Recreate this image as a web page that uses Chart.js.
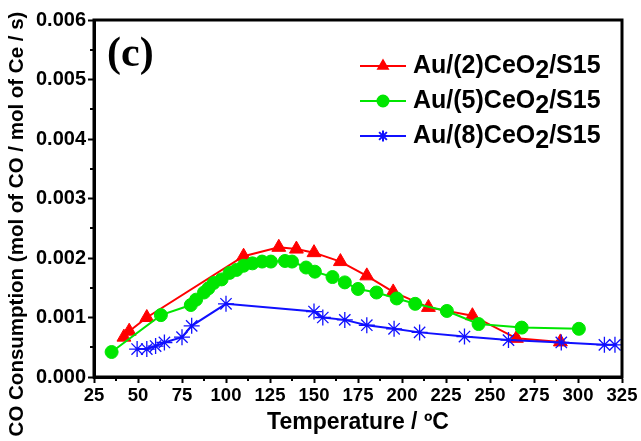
<!DOCTYPE html>
<html>
<head>
<meta charset="utf-8">
<script src="https://cdn.jsdelivr.net/npm/chart.js@4/dist/chart.umd.min.js"></script>
<style>
  html, body { margin: 0; padding: 0; background: #fff; }
  #wrap { width: 641px; height: 441px; position: relative; }
</style>
</head>
<body>
<div id="wrap"><canvas id="c" width="641" height="441"></canvas></div>
<script>
  // values
  const SERIES_LABELS = ["Au/(2)CeO₂/S15", "Au/(5)CeO₂/S15", "Au/(8)CeO₂/S15"];
  const X_TITLE = "Temperature / ºC";
  const Y_TITLE = "CO Consumption (mol of CO / mol of Ce / s)";

  const tempAu2 = [42, 45, 55, 110, 130, 140, 150, 165, 180, 195, 215, 240, 265, 290];
  const coAu2 = [0.00067, 0.00077, 0.00100, 0.00203, 0.00218, 0.00215, 0.00209, 0.00194, 0.00170, 0.00143, 0.00117, 0.00103, 0.00065, 0.00059];

  const tempAu5 = [35, 63, 80, 83, 87.5, 90, 93, 97.5, 102, 106, 110, 115, 120.5, 125.5, 133.5, 137.5, 145.5, 150.5, 160.5, 167.5, 175, 185.5, 197, 207.5, 225.5, 243.5, 268, 300.5];
  const coAu5 = [0.00042, 0.00104, 0.00121, 0.00130, 0.00142, 0.00149, 0.00158, 0.00164, 0.00175, 0.00180, 0.00187, 0.00191, 0.00194, 0.00194, 0.00195, 0.00194, 0.00184, 0.00177, 0.00168, 0.00159, 0.00148, 0.00142, 0.00132, 0.00123, 0.00111, 0.00089, 0.00083, 0.00081];

  const tempAu8 = [49.5, 55, 60, 65, 75, 80.5, 100, 150, 155, 167.5, 180, 195.5, 210, 235.5, 260.5, 290.5, 315, 321];
  const coAu8 = [0.00047, 0.00047, 0.00052, 0.00058, 0.00067, 0.00086, 0.00123, 0.00110, 0.00100, 0.00096, 0.00087, 0.00081, 0.00075, 0.00068, 0.00062, 0.00058, 0.00054, 0.00054];

  const X_MIN = 25, X_MAX = 325, X_STEP = 25;
  const Y_MIN = 0, Y_MAX = 0.006, Y_STEP = 0.001;

  const COLORS = ["#ff0000", "#00e600", "#1010ff"];
  const POINT_STYLES = ["triangle", "circle", "star"];
  const POINT_RADIUS = [8, 6.5, 8];
  const FONT = "'Liberation Sans', Arial, sans-serif";

  function toPoints(xs, ys) {
    return xs.map((x, i) => ({ x: x, y: ys[i] }));
  }

  function makeDataset(i, xs, ys) {
    return {
      label: SERIES_LABELS[i],
      data: toPoints(xs, ys),
      borderColor: COLORS[i],
      backgroundColor: COLORS[i],
      pointStyle: POINT_STYLES[i],
      pointRadius: POINT_RADIUS[i],
      pointBorderColor: COLORS[i],
      pointBackgroundColor: COLORS[i],
      pointBorderWidth: i === 2 ? 1.3 : 1,
      borderWidth: 2,
      tension: 0,
      fill: false,
      order: 2 - i,
    };
  }

  // frame on all four sides + minor ticks + rotated y title
  const framePlugin = {
    id: "frame",
    afterDraw(chart) {
      const ctx = chart.ctx;
      const a = chart.chartArea;
      const xs = chart.scales.x, ys = chart.scales.y;
      ctx.save();
      ctx.strokeStyle = "#000";
      ctx.lineWidth = 3;
      ctx.strokeRect(a.left, a.top, a.right - a.left, a.bottom - a.top);
      ctx.lineWidth = 2;
      ctx.beginPath();
      for (let v = X_MIN + X_STEP / 2; v < X_MAX; v += X_STEP) {
        const px = Math.round(xs.getPixelForValue(v));
        ctx.moveTo(px, a.bottom);
        ctx.lineTo(px, a.bottom + 4);
      }
      for (let v = Y_MIN + Y_STEP / 2; v < Y_MAX; v += Y_STEP) {
        const py = Math.round(ys.getPixelForValue(v));
        ctx.moveTo(a.left, py);
        ctx.lineTo(a.left - 4, py);
      }
      ctx.stroke();

      ctx.translate(17, 224);
      ctx.rotate(-Math.PI / 2);
      ctx.fillStyle = "#000";
      ctx.font = "bold 20.5px " + FONT;
      ctx.textAlign = "center";
      ctx.textBaseline = "middle";
      ctx.fillText(Y_TITLE, 0, 0);
      ctx.restore();
    },
  };

  // legend: short line with marker, bold label with lowered "2"
  const legendPlugin = {
    id: "lineLegend",
    afterDraw(chart, args, opts) {
      const ctx = chart.ctx;
      ctx.save();
      chart.data.datasets.forEach((ds, i) => {
        const y = opts.top + i * opts.rowGap;
        ctx.strokeStyle = ds.borderColor;
        ctx.lineWidth = 2;
        ctx.beginPath();
        ctx.moveTo(opts.lineX0, y);
        ctx.lineTo(opts.lineX1, y);
        ctx.stroke();
        ctx.fillStyle = ds.borderColor;
        Chart.helpers.drawPoint(ctx, {
          pointStyle: ds.pointStyle,
          radius: 5.5,
          borderWidth: 1,
          rotation: 0,
        }, (opts.lineX0 + opts.lineX1) / 2, y);

        ctx.fillStyle = "#000";
        ctx.font = "bold " + opts.fontSize + "px " + FONT;
        ctx.textBaseline = "middle";
        ctx.textAlign = "left";
        const parts = ds.label.split("₂");
        let x = opts.textX;
        ctx.fillText(parts[0], x, y);
        x += ctx.measureText(parts[0]).width;
        ctx.fillText("2", x, y + opts.subShift);
        x += ctx.measureText("2").width;
        ctx.fillText(parts[1], x, y);
      });
      // panel letter
      ctx.fillStyle = "#000";
      ctx.font = "bold 42px 'Liberation Serif', 'Times New Roman', serif";
      ctx.textBaseline = "alphabetic";
      ctx.fillText("(c)", 107, 66);
      ctx.restore();
    },
  };

  new Chart(document.getElementById("c"), {
    type: "line",
    data: {
      datasets: [
        makeDataset(0, tempAu2, coAu2),
        makeDataset(1, tempAu5, coAu5),
        makeDataset(2, tempAu8, coAu8),
      ],
    },
    options: {
      responsive: false,
      animation: false,
      layout: { padding: { left: 0, top: 20, right: 19, bottom: 0 } },
      plugins: {
        legend: { display: false },
        tooltip: { enabled: false },
        lineLegend: { top: 66, rowGap: 35, lineX0: 360, lineX1: 406, textX: 413, fontSize: 25, subShift: 5 },
      },
      scales: {
        x: {
          type: "linear",
          min: X_MIN,
          max: X_MAX,
          afterFit: (s) => { s.height = 64; },
          ticks: {
            stepSize: X_STEP,
            color: "#000",
            font: { family: FONT, weight: "bold", size: 18.5 },
            padding: 2,
            maxRotation: 0,
            autoSkip: false,
          },
          grid: { drawOnChartArea: false, drawTicks: true, tickLength: 6, tickWidth: 2, tickColor: "#000" },
          border: { display: true, color: "#000", width: 3 },
          title: {
            display: true,
            text: X_TITLE,
            color: "#000",
            font: { family: FONT, weight: "bold", size: 23 },
            padding: { top: 0, bottom: 5 },
          },
        },
        y: {
          min: Y_MIN,
          max: Y_MAX,
          afterFit: (s) => { s.width = 94; },
          ticks: {
            stepSize: Y_STEP,
            color: "#000",
            font: { family: FONT, weight: "bold", size: 20 },
            padding: 2,
            callback: (v) => v.toFixed(3),
          },
          grid: { drawOnChartArea: false, drawTicks: true, tickLength: 6, tickWidth: 2, tickColor: "#000" },
          border: { display: true, color: "#000", width: 3 },
          title: { display: false },
        },
      },
    },
    plugins: [framePlugin, legendPlugin],
  });
</script>
</body>
</html>
